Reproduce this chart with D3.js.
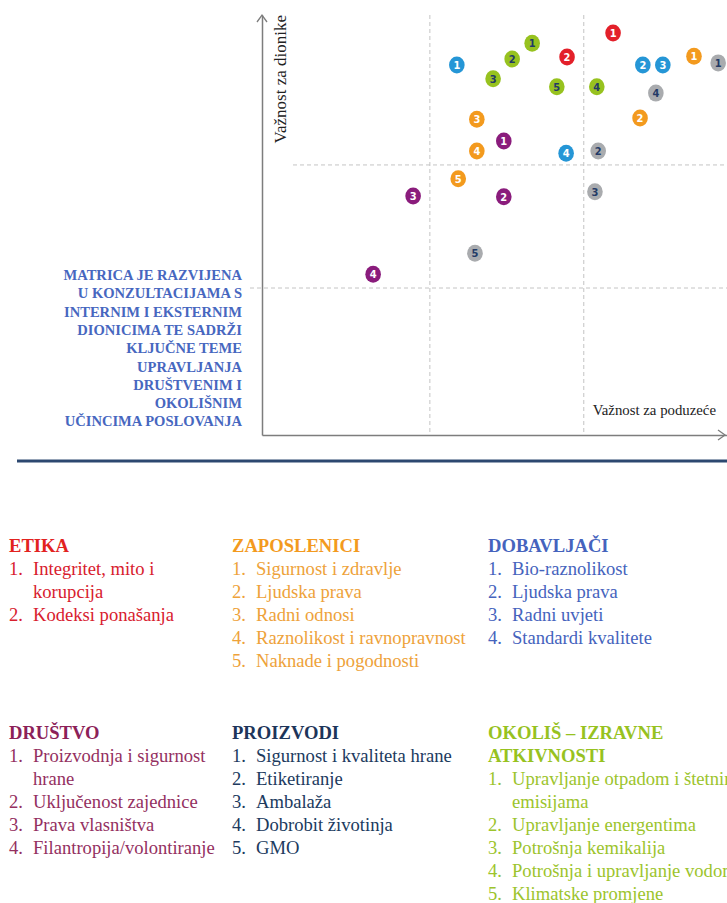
<!DOCTYPE html>
<html>
<head>
<meta charset="utf-8">
<script src="https://cdn.jsdelivr.net/npm/d3@7"></script>
<style>
body { margin: 0; background: #fff; }
svg { display: block; }
</style>
</head>
<body>
<script>
var w = 727;
var h = 903;
var svg = d3.select("body").append("svg").attr("width", w).attr("height", h);

// groups of topics, colours of the dots and of the legend text
var groups = ["ETIKA", "ZAPOSLENICI", "DOBAVLJAČI", "DRUŠTVO", "PROIZVODI", "OKOLIŠ"];
var dotColors = ["#e3202a", "#f39a1e", "#2596d6", "#8a1c7c", "#a9abae", "#97c21f"];
var numColors = ["#fff", "#fff", "#fff", "#fff", "#233a66", "#233a66"];
var textColors = ["#d8202e", "#eea23a", "#4563bd", "#94305f", "#203a5e", "#9cc42c"];
var headColors = ["#e2231f", "#f39a1e", "#4563bd", "#8c2158", "#1d355a", "#97c21f"];

// [group index, number, x (importance for company), y (importance for stakeholders)]
var points = [
    [0, 1, 7.55, 9.57], [0, 2, 6.56, 9.0],
    [1, 1, 9.29, 9.02], [1, 2, 8.13, 7.55], [1, 3, 4.62, 7.52], [1, 4, 4.62, 6.76], [1, 5, 4.22, 6.1],
    [2, 1, 4.19, 8.81], [2, 2, 8.19, 8.81], [2, 3, 8.62, 8.81], [2, 4, 6.54, 6.71],
    [3, 1, 5.2, 7.0], [3, 2, 5.2, 5.67], [3, 3, 3.25, 5.69], [3, 4, 2.39, 3.83],
    [4, 1, 9.81, 8.86], [4, 2, 7.23, 6.76], [4, 3, 7.16, 5.79], [4, 4, 8.47, 8.14], [4, 5, 4.58, 4.33],
    [5, 1, 5.81, 9.33], [5, 2, 5.38, 8.95], [5, 3, 4.97, 8.48], [5, 4, 7.2, 8.29], [5, 5, 6.34, 8.29]
];
var xSplits = [3.61, 6.92];
var ySplits = [6.43, 3.5];

var noteLines = ["MATRICA JE RAZVIJENA", "U KONZULTACIJAMA S", "INTERNIM I EKSTERNIM",
    "DIONICIMA TE SADRŽI", "KLJUČNE TEME", "UPRAVLJANJA", "DRUŠTVENIM I", "OKOLIŠNIM",
    "UČINCIMA POSLOVANJA"];

var etikaItems = ["Integritet, mito i\nkorupcija", "Kodeksi ponašanja"];
var zaposleniciItems = ["Sigurnost i zdravlje", "Ljudska prava", "Radni odnosi",
    "Raznolikost i ravnopravnost", "Naknade i pogodnosti"];
var dobavljaciItems = ["Bio-raznolikost", "Ljudska prava", "Radni uvjeti", "Standardi kvalitete"];
var drustvoItems = ["Proizvodnja i sigurnost\nhrane", "Uključenost zajednice", "Prava vlasništva",
    "Filantropija/volontiranje"];
var proizvodiItems = ["Sigurnost i kvaliteta hrane", "Etiketiranje", "Ambalaža",
    "Dobrobit životinja", "GMO"];
var okolisItems = ["Upravljanje otpadom i štetnim\nemisijama", "Upravljanje energentima",
    "Potrošnja kemikalija", "Potrošnja i upravljanje vodom", "Klimatske promjene"];
var headings = ["ETIKA", "ZAPOSLENICI", "DOBAVLJAČI", "DRUŠTVO", "PROIZVODI", "OKOLIŠ – IZRAVNE\nATKIVNOSTI"];
var itemLists = [etikaItems, zaposleniciItems, dobavljaciItems, drustvoItems, proizvodiItems, okolisItems];

// map from matrix units to pixels
var xS = d3.scaleLinear().domain([0, 10]).range([262, 727]);
var yS = d3.scaleLinear().domain([0, 10]).range([435, 15]);

var serif = "'Liberation Serif', 'Times New Roman', serif";

// dashed quadrant lines
svg.selectAll("line.vs").data(xSplits).enter().append("line")
    .attr("x1", function(d) {return xS(d);}).attr("x2", function(d) {return xS(d);})
    .attr("y1", yS(10)).attr("y2", yS(0))
    .attr("stroke", "#c4c4c4").attr("stroke-dasharray", "4,3");
svg.selectAll("line.hs").data(ySplits).enter().append("line")
    .attr("x1", function(d, i) {return i == 0 ? 293 : 250;}).attr("x2", w)
    .attr("y1", function(d) {return yS(d);}).attr("y2", function(d) {return yS(d);})
    .attr("stroke", "#c4c4c4").attr("stroke-dasharray", "4,3");

// axes, no ticks
var xA = d3.axisBottom(xS).tickValues([]).tickSizeOuter(0);
var yA = d3.axisLeft(yS).tickValues([]).tickSizeOuter(0);
svg.append("g").attr("transform", "translate(0," + yS(0) + ")").call(xA)
    .select(".domain").attr("stroke", "#7d7d7d").attr("stroke-width", 1.5);
svg.append("g").attr("transform", "translate(" + xS(0) + ",0)").call(yA)
    .select(".domain").attr("stroke", "#7d7d7d").attr("stroke-width", 1.5);
svg.append("path")
    .attr("d", "M" + (xS(0) - 5) + "," + (yS(10) + 7) + "L" + xS(0) + "," + yS(10) + "L" + (xS(0) + 5) + "," + (yS(10) + 7)
        + "M" + (w - 9) + "," + (yS(0) - 5) + "L" + (w - 2) + "," + yS(0) + "L" + (w - 9) + "," + (yS(0) + 5))
    .attr("fill", "none").attr("stroke", "#7d7d7d").attr("stroke-width", 1.3);

svg.append("text").text("Važnost za dionike")
    .attr("transform", "translate(286," + yS(10) + ") rotate(-90)")
    .attr("text-anchor", "end")
    .attr("font-family", serif).attr("font-size", "17px").attr("fill", "#222");
svg.append("text").text("Važnost za poduzeće")
    .attr("x", 716).attr("y", 415).attr("text-anchor", "end")
    .attr("font-family", serif).attr("font-size", "14.8px").attr("fill", "#222");

// dots
var dots = svg.selectAll("g.dot").data(points).enter().append("g")
    .attr("transform", function(d) {return "translate(" + xS(d[2]) + "," + yS(d[3]) + ")";});
dots.append("ellipse").attr("rx", 7.8).attr("ry", 8.5)
    .attr("fill", function(d) {return dotColors[d[0]];});
dots.append("text").text(function(d) {return d[1];})
    .attr("y", 4).attr("text-anchor", "middle")
    .attr("font-family", "'DejaVu Sans Condensed', 'DejaVu Sans', sans-serif")
    .attr("font-weight", "bold").attr("font-size", "11px")
    .attr("fill", function(d) {return numColors[d[0]];});

// note on the left
svg.selectAll("text.note").data(noteLines).enter().append("text")
    .text(function(d) {return d;})
    .attr("transform", function(d, i) {return "translate(242," + (280 + i * 18.3) + ") scale(0.94,1)";})
    .attr("text-anchor", "end")
    .attr("font-family", serif).attr("font-weight", "bold").attr("font-size", "15.5px")
    .attr("fill", "#4767bf");

// separator
svg.append("line").attr("x1", 17).attr("x2", w).attr("y1", 461).attr("y2", 461)
    .attr("stroke", "#2c4870").attr("stroke-width", 3);

// legend blocks
var colX = [9, 232, 488];
var rowY = [552, 739];
var fs = "18.6px";
groups.forEach(function(g, gi) {
    var x0 = colX[gi % 3];
    var y0 = rowY[Math.floor(gi / 3)];
    var lh = 23;
    var blk = svg.append("g");
    var hl = headings[gi].split("\n");
    hl.forEach(function(t, k) {
        blk.append("text").text(t).attr("x", x0).attr("y", y0 + k * lh)
            .attr("font-family", serif).attr("font-weight", "bold").attr("font-size", fs)
            .attr("fill", headColors[gi]);
    });
    var line = hl.length;
    itemLists[gi].forEach(function(item, k) {
        var parts = item.split("\n");
        blk.append("text").text((k + 1) + ".").attr("x", x0).attr("y", y0 + line * lh)
            .attr("font-family", serif).attr("font-size", fs).attr("fill", textColors[gi]);
        parts.forEach(function(p) {
            blk.append("text").text(p).attr("x", x0 + 24).attr("y", y0 + line * lh)
                .attr("font-family", serif).attr("font-size", fs).attr("fill", textColors[gi]);
            line++;
        });
    });
});
</script>
</body>
</html>
